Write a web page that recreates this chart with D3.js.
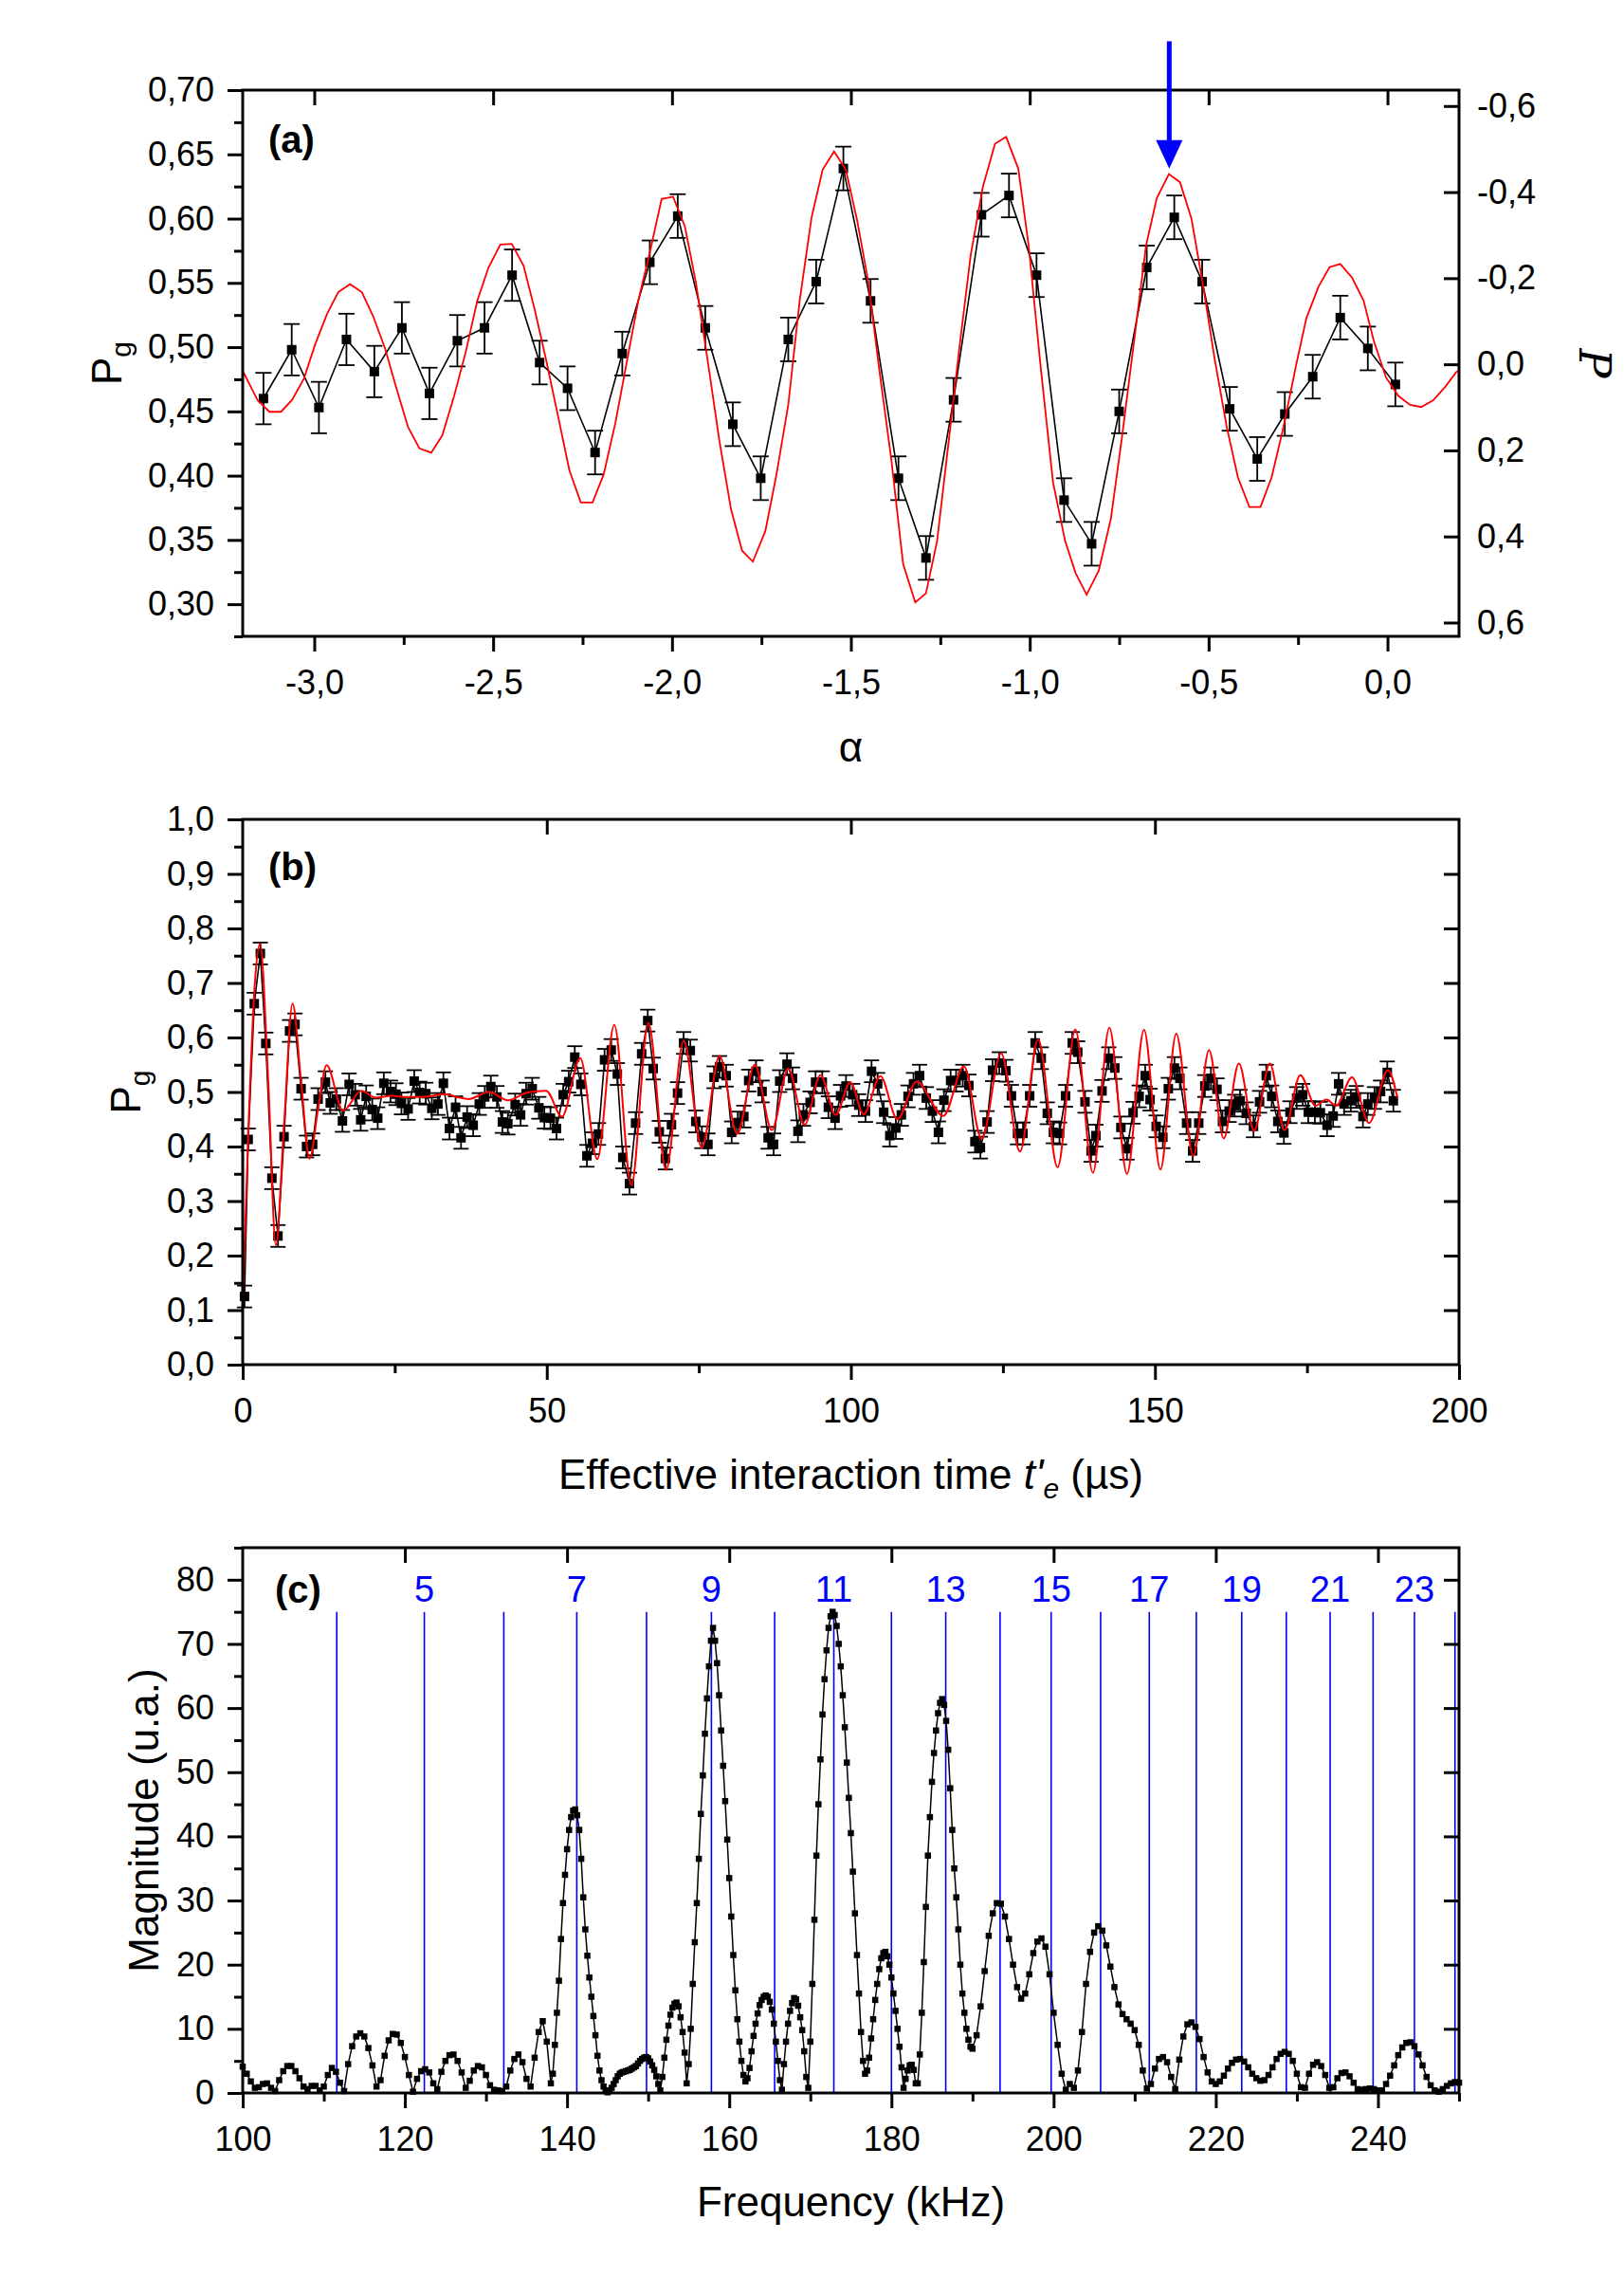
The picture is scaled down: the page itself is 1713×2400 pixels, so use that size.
<!DOCTYPE html>
<html><head><meta charset="utf-8">
<script src="https://cdn.jsdelivr.net/npm/d3@7"></script>
<style>
body{margin:0;background:#fff;}
svg{display:block;}
</style></head>
<body><svg id="chart" width="1713" height="2400"></svg>
<script>
// ---------------- Panel (a) ----------------
const aAlpha = [-3.142,-3.063,-2.987,-2.910,-2.832,-2.755,-2.678,-2.600,-2.524,-2.447,-2.370,-2.292,-2.215,-2.139,-2.062,-1.984,-1.907,-1.830,-1.752,-1.675,-1.597,-1.521,-1.445,-1.367,-1.290,-1.213,-1.135,-1.058,-0.981,-0.904,-0.827,-0.750,-0.673,-0.596,-0.518,-0.441,-0.364,-0.287,-0.209,-0.132,-0.055,0.022];
const aPg = [0.460,0.498,0.453,0.506,0.481,0.515,0.464,0.505,0.515,0.556,0.488,0.468,0.418,0.495,0.566,0.602,0.515,0.440,0.398,0.506,0.551,0.639,0.536,0.398,0.336,0.459,0.603,0.618,0.556,0.381,0.347,0.450,0.562,0.601,0.551,0.452,0.413,0.448,0.477,0.523,0.499,0.471];
const aErr = [0.020,0.020,0.020,0.020,0.020,0.020,0.020,0.020,0.020,0.020,0.017,0.017,0.017,0.017,0.017,0.017,0.017,0.017,0.017,0.017,0.017,0.017,0.017,0.017,0.017,0.017,0.017,0.017,0.017,0.017,0.017,0.017,0.017,0.017,0.017,0.017,0.017,0.017,0.017,0.017,0.017,0.017];
const aFitAlpha = [-3.198,-3.158,-3.125,-3.093,-3.062,-3.029,-2.997,-2.964,-2.933,-2.900,-2.867,-2.835,-2.802,-2.771,-2.738,-2.706,-2.673,-2.642,-2.609,-2.577,-2.544,-2.513,-2.480,-2.448,-2.415,-2.384,-2.351,-2.320,-2.287,-2.255,-2.222,-2.191,-2.158,-2.126,-2.094,-2.062,-2.029,-1.997,-1.964,-1.933,-1.900,-1.868,-1.835,-1.804,-1.774,-1.739,-1.708,-1.675,-1.643,-1.610,-1.579,-1.547,-1.514,-1.482,-1.451,-1.421,-1.387,-1.354,-1.320,-1.290,-1.259,-1.225,-1.196,-1.165,-1.131,-1.097,-1.066,-1.032,-1.003,-0.969,-0.935,-0.901,-0.872,-0.841,-0.807,-0.773,-0.742,-0.710,-0.675,-0.645,-0.611,-0.580,-0.548,-0.517,-0.483,-0.449,-0.418,-0.386,-0.355,-0.324,-0.291,-0.256,-0.227,-0.193,-0.162,-0.132,-0.099,-0.067,-0.038,-0.004,0.030,0.063,0.094,0.128,0.162,0.192,0.200];
const aFitPg = [0.4805,0.4585,0.4497,0.4497,0.459,0.4754,0.5025,0.526,0.5428,0.549,0.5428,0.5238,0.499,0.4686,0.438,0.4212,0.4178,0.4314,0.462,0.4957,0.5364,0.5618,0.5798,0.5804,0.5635,0.5296,0.489,0.4483,0.4043,0.3792,0.3792,0.4009,0.4415,0.489,0.5364,0.5736,0.6153,0.617,0.594,0.5499,0.489,0.428,0.3738,0.3416,0.3331,0.357,0.4009,0.4551,0.5364,0.6007,0.638,0.6522,0.638,0.598,0.5505,0.4834,0.4127,0.3314,0.3014,0.3085,0.3491,0.4304,0.501,0.5717,0.6247,0.6583,0.6636,0.6389,0.5788,0.4834,0.395,0.3491,0.3244,0.3074,0.3261,0.3668,0.4304,0.501,0.5788,0.6159,0.6346,0.6283,0.600,0.5505,0.4905,0.4375,0.3986,0.3756,0.3756,0.3986,0.4375,0.4852,0.5223,0.547,0.5622,0.5647,0.5541,0.5364,0.5046,0.4763,0.4622,0.4551,0.4534,0.4587,0.4693,0.4806,0.482];
const aYTicks = [0.30,0.35,0.40,0.45,0.50,0.55,0.60,0.65,0.70];
const aYMinor = [0.275,0.325,0.375,0.425,0.475,0.525,0.575,0.625,0.675];
const aXTicks = [-3.0,-2.5,-2.0,-1.5,-1.0,-0.5,0.0];
const aXMinor = [-2.75,-2.25,-1.75,-1.25,-0.75,-0.25];
const aRightTicks = [-0.6,-0.4,-0.2,0.0,0.2,0.4,0.6];
const aArrowAlpha = -0.61;

// ---------------- Panel (b) ----------------
const bTime = [0.3,0.9,1.9,2.9,3.8,4.8,5.8,6.8,7.7,8.6,9.6,10.5,11.5,12.4,13.6,14.4,15.4,16.4,17.5,18.5,19.4,20.3,21.3,22.2,23.2,24.3,25.2,26.1,27.2,28.2,29.1,30.1,31.1,32.1,33.0,34.0,35.0,35.9,36.9,37.9,38.9,39.8,40.8,41.8,42.7,43.6,44.8,45.7,46.6,47.6,48.7,49.6,
50.6,51.6,52.7,53.6,54.6,55.6,56.6,57.5,58.5,59.5,60.6,61.6,62.5,63.6,64.6,65.6,66.6,67.5,68.5,69.5,70.5,71.5,72.5,73.6,74.5,75.5,76.5,77.5,78.4,79.5,80.4,81.4,82.4,83.2,84.4,85.4,86.4,87.3,88.3,89.5,90.4,91.3,92.2,93.3,94.2,95.3,96.3,97.4,98.3,99.2,
100.3,101.3,102.4,103.4,104.4,105.4,106.4,107.4,108.3,109.4,110.3,111.3,112.4,113.4,114.4,115.3,116.4,117.3,118.4,119.4,120.4,121.3,122.4,123.3,124.4,125.5,126.4,127.4,128.3,129.4,130.3,131.3,132.3,133.3,134.3,135.3,136.4,137.3,138.5,139.5,140.3,141.3,142.4,143.4,144.4,145.4,146.4,147.4,148.4,
149.2,150.2,151.3,152.2,153.2,154.1,155.2,156.2,157.2,158.2,159.2,160.2,161.1,162.2,163.1,164.0,165.0,166.2,167.2,168.3,169.2,170.2,171.2,172.2,173.3,174.3,175.2,176.3,177.2,178.3,179.3,180.2,181.1,182.2,183.1,184.2,185.0,186.1,187.1,188.2,189.2];
const bPg = [0.125,0.413,0.662,0.754,0.589,0.342,0.236,0.418,0.612,0.624,0.506,0.400,0.404,0.487,0.518,0.480,0.487,0.447,0.514,0.495,0.449,0.492,0.468,0.452,0.516,0.501,0.496,0.479,0.469,0.520,0.499,0.497,0.470,0.478,0.516,0.433,0.472,0.416,0.454,0.439,0.478,0.491,0.510,0.491,0.445,0.442,0.477,0.458,0.497,0.506,0.471,0.453,
0.452,0.433,0.495,0.519,0.564,0.514,0.383,0.406,0.423,0.559,0.577,0.533,0.380,0.332,0.443,0.570,0.631,0.543,0.427,0.378,0.440,0.498,0.590,0.576,0.446,0.417,0.404,0.527,0.546,0.530,0.426,0.444,0.455,0.521,0.538,0.501,0.416,0.404,0.520,0.551,0.525,0.428,0.458,0.481,0.518,0.518,0.472,0.452,0.493,0.511,
0.495,0.476,0.465,0.538,0.515,0.463,0.420,0.434,0.458,0.492,0.515,0.530,0.489,0.465,0.426,0.485,0.521,0.521,0.530,0.512,0.409,0.398,0.445,0.540,0.553,0.539,0.493,0.424,0.424,0.493,0.590,0.562,0.461,0.426,0.424,0.493,0.590,0.573,0.482,0.392,0.420,0.502,0.562,0.544,0.435,0.396,0.462,0.492,0.530,
0.486,0.437,0.417,0.506,0.544,0.525,0.443,0.392,0.443,0.511,0.525,0.505,0.446,0.465,0.475,0.484,0.461,0.437,0.482,0.530,0.492,0.446,0.425,0.463,0.489,0.495,0.463,0.463,0.462,0.439,0.456,0.515,0.478,0.484,0.491,0.455,0.478,0.489,0.501,0.536,0.484];
const bErr = 0.02;
const bFitTime = [0,1.0,2.0,2.86,4.2,5.45,6.8,8.2,9.6,11.0,12.4,13.8,16.5,19.5,21.8,24.5,26.5,29.6,33.2,35.5,37.1,40.5,43.6,46.8,49.9,52.5,55.5,58.3,61.1,63.9,66.7,69.6,72.5,75.5,78.4,81.3,84.2,87.0,89.7,92.4,95.0,97.5,99.9,102.1,104.85,107.65,110.8,115.2,118.6,121.5,124.7,127.8,130.8,134.0,136.9,139.8,142.5,145.4,148.2,150.9,153.5,156.3,158.9,161.3,163.8,166.3,168.9,171.3,173.9,176.4,178.2,179.8,182.4,185.2,188.3,189.9];
const bFitPg = [0.117,0.45,0.70,0.772,0.52,0.219,0.44,0.662,0.52,0.378,0.47,0.549,0.466,0.502,0.490,0.493,0.491,0.491,0.496,0.490,0.487,0.500,0.485,0.499,0.502,0.455,0.562,0.377,0.623,0.329,0.627,0.357,0.594,0.398,0.566,0.423,0.550,0.430,0.543,0.440,0.531,0.458,0.518,0.459,0.529,0.450,0.519,0.456,0.547,0.414,0.571,0.391,0.596,0.362,0.615,0.352,0.618,0.350,0.614,0.358,0.607,0.383,0.577,0.415,0.552,0.429,0.552,0.430,0.531,0.475,0.486,0.475,0.527,0.443,0.540,0.488];
const bYTicks = [0,0.1,0.2,0.3,0.4,0.5,0.6,0.7,0.8,0.9,1.0];
const bYMinor = [0.05,0.15,0.25,0.35,0.45,0.55,0.65,0.75,0.85,0.95];
const bXTicks = [0,50,100,150,200];
const bXMinor = [25,75,125,175];

// ---------------- Panel (c) ----------------
const cFreq = [100,100.5,101,101.5,102,102.5,103,103.5,104,104.5,105,105.5,106,106.5,107,107.5,108,108.5,109,109.5,110,110.5,111,111.5,112,112.5,113,113.5,114,114.5,115,115.5,116,116.5,117,117.5,118,118.5,119,119.5,120,120.5,121,121.5,122,122.5,123,123.5,124,124.5,125,125.5,126,126.5,127,127.5,128,128.5,129,129.5,130,130.5,131,131.5,132,132.5,133,133.5,134,134.5,135,135.5,136,136.5,137,137.5,138,
138.25,138.5,138.75,139,139.25,139.5,139.75,140,140.25,140.5,140.75,141,141.25,141.5,141.75,142,142.25,142.5,142.75,143,143.25,143.5,143.75,144,144.25,144.5,144.75,145,145.25,145.5,145.75,146,146.25,146.5,146.75,147,147.25,147.5,147.75,148,148.25,148.5,148.75,149,149.25,149.5,149.75,150,150.25,150.5,150.75,151,151.25,151.5,151.75,152,152.25,152.5,152.75,153,153.25,153.5,153.75,154,154.25,154.5,154.75,155,155.25,155.5,155.75,156,156.25,156.5,156.75,157,157.25,157.5,157.75,158,158.25,158.5,158.75,159,159.25,159.5,159.75,160,160.25,160.5,160.75,161,161.25,161.5,161.75,162,162.25,162.5,162.75,163,163.25,163.5,163.75,164,164.25,164.5,164.75,165,165.25,165.5,165.75,166,166.25,166.5,166.75,167,167.25,167.5,167.75,168,168.25,168.5,168.75,169,169.25,169.5,169.75,170,170.25,170.5,170.75,171,171.25,171.5,171.75,172,172.25,172.5,172.75,173,173.25,173.5,173.75,174,174.25,174.5,174.75,175,175.25,175.5,175.75,176,176.25,176.5,176.75,177,177.25,177.5,177.75,178,178.25,178.5,178.75,179,179.25,179.5,179.75,180,180.25,180.5,180.75,181,181.25,181.5,181.75,182,182.25,182.5,182.75,183,183.25,183.5,183.75,184,184.25,184.5,184.75,185,185.25,185.5,185.75,186,186.25,186.5,186.75,187,187.25,187.5,187.75,188,188.25,188.5,188.75,189,189.25,189.5,189.75,190,
190.5,191,191.5,192,192.5,193,193.5,194,194.5,195,195.5,196,196.5,197,197.5,198,198.5,199,199.5,200,200.5,201,201.5,202,202.5,203,203.5,204,204.5,205,205.5,206,206.5,207,207.5,208,208.5,209,209.5,210,210.5,211,211.5,212,212.5,213,213.5,214,214.5,215,215.5,216,216.5,217,217.5,218,218.5,219,219.5,220,220.5,221,221.5,222,222.5,223,223.5,224,224.5,225,225.5,226,226.5,227,227.5,228,228.5,229,229.5,230,230.5,231,231.5,232,232.5,233,233.5,234,234.5,235,235.5,236,236.5,237,237.5,238,238.5,239,239.5,240,240.5,241,241.5,242,242.5,243,243.5,244,244.5,245,245.5,246,246.5,247,247.5,248,248.5,249,249.5,250];
const cMag = [4.1,3.0,1.8,0.8,0.9,1.4,1.5,0.8,0.3,2.0,3.4,4.2,4.2,3.4,2.3,1.0,0.6,1.1,1.1,0.4,1.0,2.8,3.9,3.3,1.6,0.3,4.5,7.3,8.8,9.3,8.8,7.0,4.3,1.0,2.0,5.8,8.2,9.2,9.1,7.8,5.6,2.8,0.2,2.2,3.4,3.7,3.2,1.5,0.6,3.3,5.0,5.9,6.0,5.0,3.2,0.8,1.9,3.5,4.2,4.0,2.8,1.2,0.5,0.4,0.3,1.0,3.5,5.3,6.0,4.8,2.2,1.0,5.5,9.5,11.2,8.0,1.5,
3.0,7.5,12.5,17.5,24,29.6,34,38,41,43,44,44.2,43.3,41,36.5,30.5,25.5,21.4,18,15,12,9,5.8,3.5,2.0,1.0,0.3,0.1,0.4,0.8,1.4,2.0,2.6,3.0,3.2,3.3,3.4,3.5,3.6,3.8,4.0,4.2,4.6,5.0,5.3,5.5,5.6,5.4,4.9,4.3,3.6,2.6,1.4,0.4,2.5,5.5,8.3,10.5,12.2,13.3,13.9,14.1,13.5,11.8,9.5,6.3,1.5,4.5,10,17,23.5,29.6,36.5,43.5,49.5,56,61.5,66.5,70.5,72.5,70.5,67,62,56.5,51,45.5,39.5,33.5,27.5,21.5,16,11.5,8.0,5.0,2.8,1.8,2.3,3.9,6.5,8.9,10.8,12.4,13.7,14.5,15.0,15.2,15.0,14.2,13.0,10.8,8.0,5.0,2.0,0.5,4.5,8.0,10.8,12.8,14.0,14.8,14.6,13.6,11.8,9.8,6.5,2.5,0.8,8,17,27,37,45,52,59,64.5,69,72.5,74.3,75,74.5,72.8,70,66.5,62,57,51.5,46,40.5,34.5,28,21.5,15.5,9.5,5,3,3.5,5.5,8.5,11.5,14.5,17,19.3,21,21.8,22,21.3,20,18,15.5,12.8,10,7.2,4,0.8,2.2,3.5,4.3,4.4,3.6,1.5,1.5,6,12.5,20.4,29,37,43,48.5,53,56.5,59.2,60.8,61.4,60.5,58,53.5,47.5,41,35,30.5,25.5,20,15.5,12.5,10,8.3,7.2,6.9,
9.0,13.5,19,24.5,28,29.6,29.5,27.5,24,20,16.5,14.7,15.5,18.5,21.8,23.6,24.1,22.8,18.5,12.5,7.5,3,0.5,1.4,0.8,3.5,9.5,17,22,25,26,25.3,23,19.7,16.5,13.8,12.3,11.5,10.8,9.8,7.5,3.5,0.7,1.4,3.8,5.3,5.6,4.8,2.5,0.6,5.2,8.8,10.7,11.0,10.3,8.4,5.6,3.2,1.8,1.4,1.8,2.7,3.8,4.7,5.2,5.3,4.9,4.0,3.0,2.3,1.9,2.0,2.8,4.0,5.3,6.1,6.4,6.1,5.0,3.0,0.9,0.8,3.0,4.4,4.8,4.2,2.8,0.8,0.9,2.3,3.1,3.2,2.6,1.6,0.6,0.5,0.6,0.7,0.6,0.4,0.4,1.4,2.7,4.3,5.9,7.1,7.8,7.9,7.3,6.0,4.3,2.5,1.2,0.4,0.2,0.6,1.1,1.5,1.7,1.6];
const cHarmFreq = [111.6,122.4,132.2,141.2,149.8,157.8,165.6,172.9,180.0,186.7,193.4,199.7,205.8,211.8,217.6,223.2,228.7,234.1,239.4,244.5,249.5];
const cHarmN = [4,5,6,7,8,9,10,11,12,13,14,15,16,17,18,19,20,21,22,23,24];
const cHarmLabeled = [5,7,9,11,13,15,17,19,21,23];
const cYTicks = [0,10,20,30,40,50,60,70,80];
const cYMinor = [5,15,25,35,45,55,65,75,85];
const cXTicks = [100,120,140,160,180,200,220,240];
const cXMinor = [110,130,150,170,190,210,230,250];

// ---------------- Drawing ----------------
const FONT = "'Liberation Sans', Arial, Helvetica, sans-serif";
const TICKFS = 36, TITLEFS = 44, PANELFS = 40;
const L = 256, R = 1539;
const svg = d3.select("#chart");
svg.append("rect").attr("width",1713).attr("height",2400).attr("fill","#fff");

const loc = d3.formatLocale({decimal:",", thousands:".", grouping:[3], currency:["",""], minus:"-"});
const f2 = loc.format(".2f"), f1 = loc.format(".1f"), f0 = loc.format("d");

function styleAxis(g){
  g.attr("font-size", null).attr("font-family", null);
  g.select(".domain").remove();
  g.selectAll(".tick line").attr("stroke","#000").attr("stroke-width",3);
  g.selectAll(".tick text").attr("fill","#000").style("font-size",TICKFS+"px").style("font-family",FONT);
}
function axes(p){
  const {x,y,top,bottom,yT,yM,xT,xM,yFmt,xFmt,rightTicks,topTicks} = p;
  svg.append("g").attr("transform",`translate(${L},0)`)
    .call(d3.axisLeft(y).tickValues(yT).tickSize(16).tickPadding(14).tickFormat(yFmt)).call(styleAxis);
  svg.append("g").attr("transform",`translate(${L},0)`)
    .call(d3.axisLeft(y).tickValues(yM).tickSize(9).tickFormat("")).call(styleAxis);
  svg.append("g").attr("transform",`translate(0,${bottom})`)
    .call(d3.axisBottom(x).tickValues(xT).tickSize(16).tickPadding(19).tickFormat(xFmt)).call(styleAxis);
  svg.append("g").attr("transform",`translate(0,${bottom})`)
    .call(d3.axisBottom(x).tickValues(xM).tickSize(9).tickFormat("")).call(styleAxis);
  svg.append("g").attr("transform",`translate(0,${top})`)
    .call(d3.axisTop(x).tickValues(topTicks).tickSize(-16).tickFormat("")).call(styleAxis);
  if (rightTicks) {
    svg.append("g").attr("transform",`translate(${R},0)`)
      .call(d3.axisRight(y).tickValues(rightTicks).tickSize(-16).tickFormat("")).call(styleAxis);
  }
  svg.append("rect").attr("x",L).attr("y",top).attr("width",R-L).attr("height",bottom-top)
    .attr("fill","none").attr("stroke","#000").attr("stroke-width",3);
}
function panelLabel(txt,x,y){
  svg.append("text").attr("x",x).attr("y",y).attr("font-family",FONT).attr("font-weight","bold")
    .attr("font-size",PANELFS).attr("fill","#000").text(txt);
}
function yTitlePg(x,cy){
  const t = svg.append("text").attr("transform",`translate(${x},${cy}) rotate(-90)`)
    .attr("text-anchor","middle").attr("font-family",FONT).attr("font-size",TITLEFS).attr("fill","#000");
  t.append("tspan").text("P");
  t.append("tspan").attr("font-size",30).attr("dy",10).text("g");
}
function errorBars(data, x, y, cap){
  const g = svg.append("g").attr("stroke","#000").attr("stroke-width",1.8);
  g.selectAll("line.v").data(data).join("line").attr("class","v")
    .attr("x1",d=>x(d[0])).attr("x2",d=>x(d[0])).attr("y1",d=>y(d[1]-d[2])).attr("y2",d=>y(d[1]+d[2]));
  g.selectAll("line.t").data(data).join("line").attr("class","t")
    .attr("x1",d=>x(d[0])-cap/2).attr("x2",d=>x(d[0])+cap/2).attr("y1",d=>y(d[1]+d[2])).attr("y2",d=>y(d[1]+d[2]));
  g.selectAll("line.b").data(data).join("line").attr("class","b")
    .attr("x1",d=>x(d[0])-cap/2).attr("x2",d=>x(d[0])+cap/2).attr("y1",d=>y(d[1]-d[2])).attr("y2",d=>y(d[1]-d[2]));
}
function squares(data, x, y, s){
  svg.append("g").selectAll("rect").data(data).join("rect")
    .attr("x",d=>x(d[0])-s/2).attr("y",d=>y(d[1])-s/2).attr("width",s).attr("height",s).attr("fill","#000");
}

// ===== Panel (a)
{
  const top=95,bottom=671;
  const x = d3.scaleLinear().domain([-3.2,0.2]).range([L,R]);
  const y = d3.scaleLinear().domain([0.275,0.70]).range([bottom,top]);
  const yd = d3.scaleLinear().domain([0.632,-0.637]).range([bottom,top]);
  const pts = aAlpha.map((a,i)=>[a,aPg[i],aErr[i]]);
  svg.append("path").datum(pts).attr("fill","none").attr("stroke","#000").attr("stroke-width",1.6)
    .attr("d",d3.line().x(d=>x(d[0])).y(d=>y(d[1])));
  errorBars(pts,x,y,17);
  squares(pts,x,y,10);
  const fit = aFitAlpha.map((a,i)=>[a,aFitPg[i]]);
  svg.append("path").datum(fit).attr("fill","none").attr("stroke","#ff0000").attr("stroke-width",1.8)
    .attr("d",d3.line().x(d=>x(d[0])).y(d=>y(d[1])));
  axes({x,y,top,bottom,yT:aYTicks,yM:aYMinor,xT:aXTicks,xM:aXMinor,yFmt:f2,xFmt:f1,rightTicks:null,topTicks:aXTicks});
  svg.append("g").attr("transform",`translate(${R},0)`)
    .call(d3.axisRight(yd).tickValues(aRightTicks).tickSize(-16).tickPadding(19).tickFormat(f1)).call(styleAxis);
  const ax = x(aArrowAlpha);
  svg.append("line").attr("x1",ax).attr("x2",ax).attr("y1",y(0.738)).attr("y2",y(0.655))
    .attr("stroke","#0000ff").attr("stroke-width",5);
  svg.append("path").attr("d",`M${ax-14},${y(0.661)}L${ax+14},${y(0.661)}L${ax},${y(0.639)}Z`).attr("fill","#0000ff");
  panelLabel("(a)",283,161);
  yTitlePg(128,(top+bottom)/2);
  svg.append("text").attr("x",(L+R)/2).attr("y",803).attr("text-anchor","middle")
    .attr("font-family",FONT).attr("font-size",TITLEFS).attr("fill","#000").text("α");
  svg.append("text").attr("transform",`translate(1666,${(top+bottom)/2}) rotate(90)`).attr("text-anchor","middle")
    .attr("font-family","'DejaVu Serif', serif").attr("font-style","italic").attr("font-size",46).attr("fill","#000").text("P");
}

// ===== Panel (b)
{
  const top=864,bottom=1439;
  const x = d3.scaleLinear().domain([0,200]).range([L,R]);
  const y = d3.scaleLinear().domain([0,1]).range([bottom,top]);
  const pts = bTime.map((t,i)=>[t,bPg[i],bErr]);
  svg.append("path").datum(pts).attr("fill","none").attr("stroke","#000").attr("stroke-width",1.6)
    .attr("d",d3.line().x(d=>x(d[0])).y(d=>y(d[1])));
  errorBars(pts,x,y,16);
  squares(pts,x,y,10);
  const fit = bFitTime.map((t,i)=>[t,bFitPg[i]]);
  svg.append("path").datum(fit).attr("fill","none").attr("stroke","#ff0000").attr("stroke-width",2)
    .attr("d",d3.line().curve(d3.curveMonotoneX).x(d=>x(d[0])).y(d=>y(d[1])));
  axes({x,y,top,bottom,yT:bYTicks,yM:bYMinor,xT:bXTicks,xM:bXMinor,yFmt:f1,xFmt:f0,rightTicks:bYTicks.slice(1,10),topTicks:[50,100,150]});
  panelLabel("(b)",283,928);
  yTitlePg(148,(top+bottom)/2);
  const t = svg.append("text").attr("x",(L+R)/2).attr("y",1570).attr("text-anchor","middle")
    .attr("font-family",FONT).attr("font-size",TITLEFS).attr("fill","#000");
  t.append("tspan").text("Effective interaction time ");
  t.append("tspan").attr("font-style","italic").text("t'");
  t.append("tspan").attr("font-style","italic").attr("font-size",30).attr("dy",10).text("e");
  t.append("tspan").attr("dy",-10).text(" (µs)");
}

// ===== Panel (c)
{
  const top=1632,bottom=2207;
  const x = d3.scaleLinear().domain([100,250]).range([L,R]);
  const y = d3.scaleLinear().domain([0,85]).range([bottom,top]);
  svg.append("g").selectAll("line").data(cHarmFreq).join("line")
    .attr("x1",d=>x(d)).attr("x2",d=>x(d)).attr("y1",y(0)).attr("y2",y(75))
    .attr("stroke","#0000ff").attr("stroke-width",1.6);
  const lab = cHarmN.map((n,i)=>[n,cHarmFreq[i]]).filter(d=>cHarmLabeled.includes(d[0]));
  svg.append("g").selectAll("text").data(lab).join("text")
    .attr("x",d=>x(d[1])).attr("y",y(76.6)).attr("text-anchor","middle")
    .attr("font-family",FONT).attr("font-size",38).attr("fill","#0000ff").text(d=>d[0]);
  const pts = cFreq.map((f,i)=>[f,cMag[i]]);
  svg.append("path").datum(pts).attr("fill","none").attr("stroke","#000").attr("stroke-width",1.5)
    .attr("d",d3.line().x(d=>x(d[0])).y(d=>y(d[1])));
  squares(pts,x,y,6.5);
  axes({x,y,top,bottom,yT:cYTicks,yM:cYMinor,xT:cXTicks,xM:cXMinor,yFmt:f0,xFmt:f0,rightTicks:cYTicks.slice(1),topTicks:[120,140,160,180,200,220,240]});
  panelLabel("(c)",290,1690);
  svg.append("text").attr("transform",`translate(167,${(top+bottom)/2}) rotate(-90)`).attr("text-anchor","middle")
    .attr("font-family",FONT).attr("font-size",TITLEFS).attr("fill","#000").text("Magnitude (u.a.)");
  svg.append("text").attr("x",(L+R)/2).attr("y",2337).attr("text-anchor","middle")
    .attr("font-family",FONT).attr("font-size",TITLEFS).attr("fill","#000").text("Frequency (kHz)");
}
</script></body></html>
